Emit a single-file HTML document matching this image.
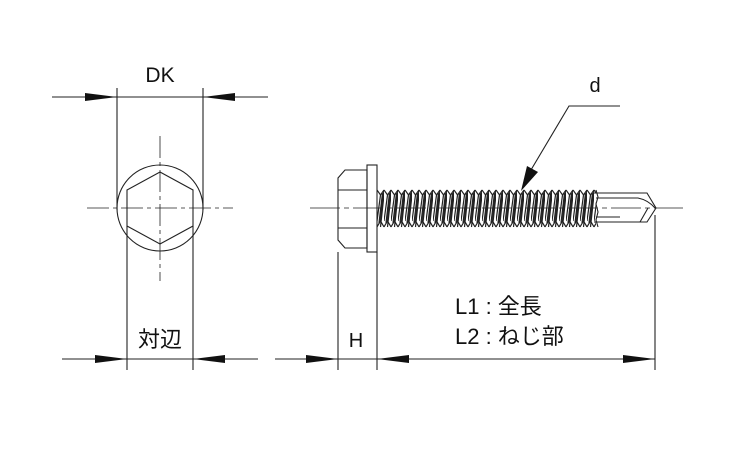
<!DOCTYPE html>
<html><head><meta charset="utf-8"><style>
html,body{margin:0;padding:0;background:#fff;width:750px;height:450px;overflow:hidden}
svg{display:block}
text{font-family:"Liberation Sans","Noto Sans CJK JP",sans-serif;fill:#111}
</style></head><body>
<svg width="750" height="450" viewBox="0 0 750 450" xmlns="http://www.w3.org/2000/svg">
<defs>
<pattern id="thr" patternUnits="userSpaceOnUse" x="377" y="189" width="7" height="39">
<path d="M0,1 L3.5,6 L7,1 M0,38 L3.5,32 L7,38 M7,1 L3.5,32 M3.5,6 L0,32 M7,6 L3.5,38 M5.5,4 L2,34" stroke="#222" stroke-width="1.2" fill="none"/>
</pattern>
</defs>
<g stroke="#222" stroke-width="1.1" fill="none">
<line x1="52" y1="97" x2="268" y2="97"/>
<line x1="117" y1="88" x2="117" y2="210"/>
<line x1="203" y1="88" x2="203" y2="210"/>
<circle cx="160" cy="208" r="43"/>
<polygon points="160,172 193,190 193,226 160,244 127,226 127,190"/>
<line x1="87" y1="208" x2="233" y2="208" stroke-dasharray="22,4,4,4" stroke-width="0.8"/>
<line x1="160" y1="136" x2="160" y2="281" stroke-dasharray="22,4,4,4" stroke-width="0.8"/>
<line x1="127" y1="226" x2="127" y2="370"/>
<line x1="193" y1="226" x2="193" y2="370"/>
<line x1="62" y1="359" x2="258" y2="359"/>
<line x1="310" y1="208" x2="683" y2="208" stroke-dasharray="30,4,5,4" stroke-width="0.8"/>
<path d="M345,170 L367,170 L367,248 L345,248 L338,240 L338,178 Z"/>
<line x1="338" y1="190" x2="367" y2="190"/>
<line x1="338" y1="228" x2="367" y2="228"/>
<rect x="367" y="165" width="10" height="87"/>
<rect x="377" y="189" width="219" height="39" fill="url(#thr)" stroke="none"/>
<path d="M596,190 L598,197 L596,204 L598,212 L596,220 L598,227"/>
<path d="M594,193 L647,193 L656,208 L647,222 L594,222"/>
<path d="M596,198 L638,198 Q648,200 655,208 M596,217 L620,217 M640,222 L648,208"/>
<line x1="338" y1="252" x2="338" y2="370"/>
<line x1="377" y1="252" x2="377" y2="370"/>
<line x1="655" y1="215" x2="655" y2="370"/>
<line x1="275" y1="359" x2="655" y2="359"/>
<path d="M620,106 L569,106 L525,180"/>
</g>
<g fill="#111">
<polygon points="85,93 117,97 85,101"/>
<polygon points="235,93 203,97 235,101"/>
<polygon points="95,355 127,359 95,363"/>
<polygon points="225,355 193,359 225,363"/>
<polygon points="306,355 338,359 306,363"/>
<polygon points="409,355 377,359 409,363"/>
<polygon points="623,355 655,359 623,363"/>
<polygon points="521,191 527,166 538,172"/>
</g>
<text x="160" y="82" font-size="21" text-anchor="middle">DK</text>
<text x="160" y="347" font-size="22" text-anchor="middle">対辺</text>
<text x="356" y="347" font-size="20" text-anchor="middle">H</text>
<text x="455" y="314" font-size="22">L1 : 全長</text>
<text x="455" y="344" font-size="22">L2 : ねじ部</text>
<text x="595" y="92" font-size="20" text-anchor="middle">d</text>
</svg>
</body></html>
